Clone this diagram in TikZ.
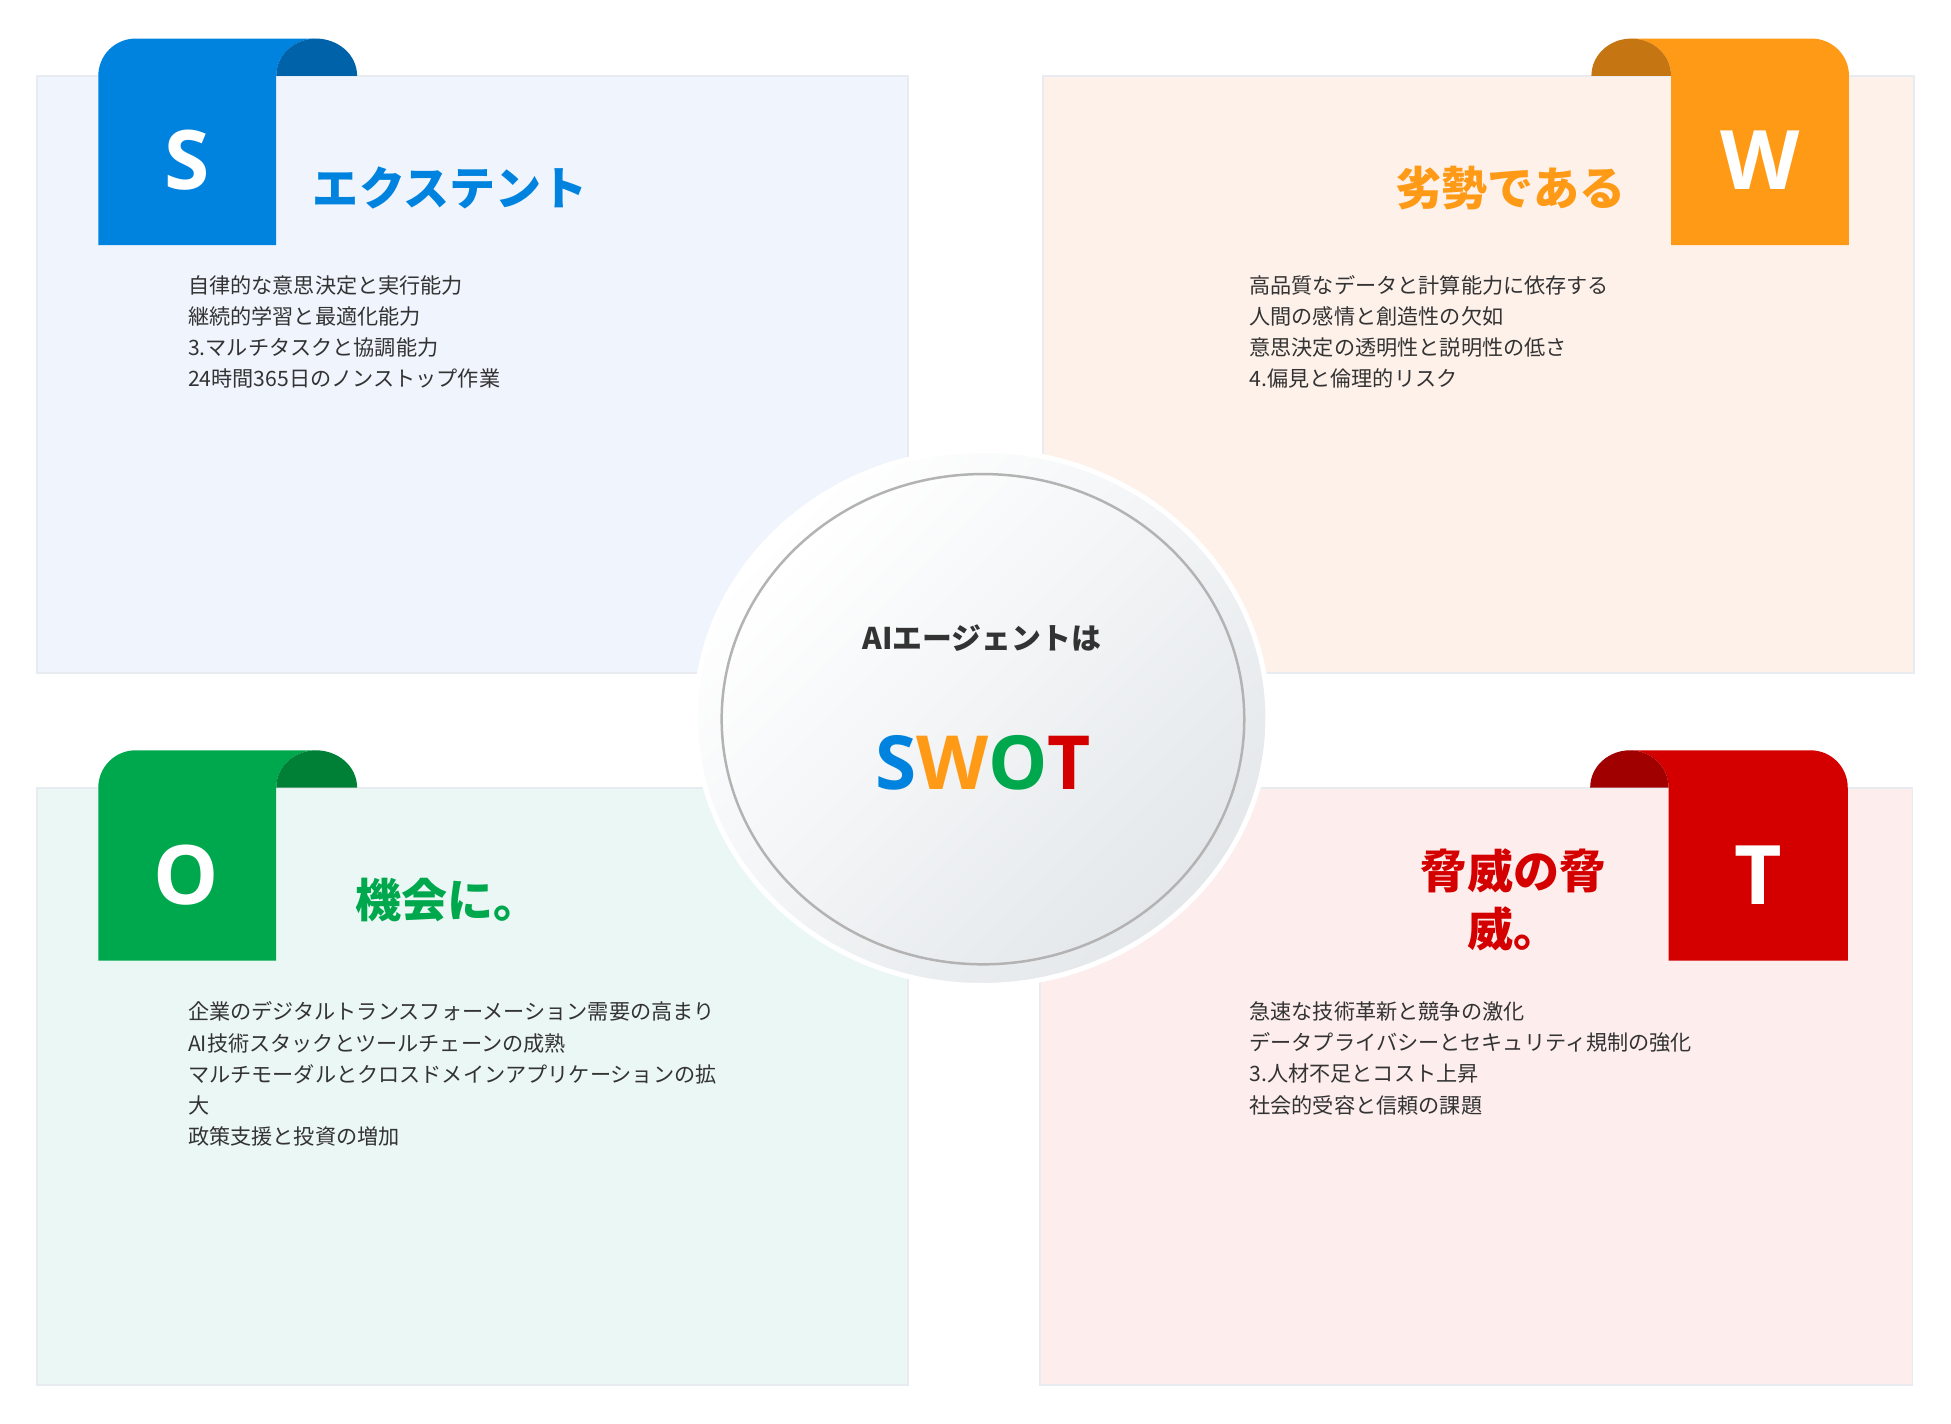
\documentclass[tikz,border=0pt]{standalone}
\usepackage{fontspec}
\setmainfont{Noto Sans CJK JP}
\newfontfamily\latin{Open Sans}
\usepackage{tikz}
\definecolor{sblue}{HTML}{0083DF}
\definecolor{sbluedk}{HTML}{0062A9}
\definecolor{worange}{HTML}{FF9A17}
\definecolor{worangedk}{HTML}{C57511}
\definecolor{ogreen}{HTML}{00A84D}
\definecolor{ogreendk}{HTML}{008037}
\definecolor{tred}{HTML}{D40000}
\definecolor{treddk}{HTML}{A00000}
\definecolor{sbg}{HTML}{EFF4FD}
\definecolor{wbg}{HTML}{FEF1EA}
\definecolor{obg}{HTML}{EBF7F4}
\definecolor{tbg}{HTML}{FDEDED}
\definecolor{boxline}{HTML}{E8ECF0}
\definecolor{txt}{HTML}{333333}
\definecolor{halo}{HTML}{E4E8EB}
\definecolor{ring}{HTML}{B3B3B3}

\begin{document}
\begin{tikzpicture}[x=1pt,y=-1pt,
    box/.style={draw=boxline,line width=1.5pt},
    letter/.style={text=white,font=\latin\bfseries\fontsize{66}{66}\selectfont},
    title/.style={font=\bfseries\fontsize{37}{47}\selectfont},
    body/.style={text=txt,align=left,inner sep=0pt,anchor=north west,font=\fontsize{17}{25}\selectfont}]
            \fill[white] (0,0) rectangle (1568,1144);
            \useasboundingbox (0,0) rectangle (1568,1144);

            \filldraw[sbg,box] (30,61) rectangle (730,541);
            \filldraw[wbg,box] (838,61) rectangle (1538,541);
            \filldraw[obg,box] (30,633) rectangle (730,1113);
            \filldraw[tbg,box] (836,633) rectangle (1537,1113);

            \fill[sblue] (79,197) -- (79,61) to[out=90,in=180] (109,31) -- (254,31)
                to[out=180,in=90] (222,61) -- (222,197) -- cycle;
            \fill[sbluedk] (222,61) to[out=90,in=180] (254,31) to[out=0,in=90] (287,61) -- cycle;
            \fill[worange] (1486,197) -- (1486,61) to[out=90,in=0] (1456,31) -- (1311,31)
                to[out=0,in=90] (1343,61) -- (1343,197) -- cycle;
            \fill[worangedk] (1343,61) to[out=90,in=0] (1311,31) to[out=180,in=90] (1279,61) -- cycle;
            \fill[ogreen] (79,772) -- (79,633) to[out=90,in=180] (109,603) -- (254,603)
                to[out=180,in=90] (222,633) -- (222,772) -- cycle;
            \fill[ogreendk] (222,633) to[out=90,in=180] (254,603) to[out=0,in=90] (287,633) -- cycle;
            \fill[tred] (1485,772) -- (1485,633) to[out=90,in=0] (1455,603) -- (1310,603)
                to[out=0,in=90] (1341,633) -- (1341,772) -- cycle;
            \fill[treddk] (1341,633) to[out=90,in=0] (1310,603) to[out=180,in=90] (1278,633) -- cycle;

            \node[letter] (sl) at (150,129) {S};
            \node[letter] (wl) at (1415,129) {W};
            \node[letter] (ol) at (150,703) {O};
            \node[letter] (tl) at (1413,703) {T};

            \node[title,text=sblue,anchor=west] (st) at (248,151) {エクステント};
            \node[title,text=worange,anchor=east] (wt) at (1310,151) {劣勢である};
            \node[title,text=ogreen,anchor=west] (ot) at (282,723) {機会に。};
            \node[title,text=tred,align=center] (tt) at (1216,723) {脅威の脅\\威。};

            \node[body] (sb) at (151,221) {自律的な意思決定と実行能力\\継続的学習と最適化能力\\3.マルチタスクと協調能力\\24時間365日のノンストップ作業};
            \node[body] (wb) at (1004,221) {高品質なデータと計算能力に依存する\\人間の感情と創造性の欠如\\意思決定の透明性と説明性の低さ\\4.偏見と倫理的リスク};
            \node[body] (ob) at (151,805) {企業のデジタルトランスフォーメーション需要の高まり\\AI技術スタックとツールチェーンの成熟\\マルチモーダルとクロスドメインアプリケーションの拡\\大\\政策支援と投資の増加};
            \node[body] (tb) at (1004,805) {急速な技術革新と競争の激化\\データプライバシーとセキュリティ規制の強化\\3.人材不足とコスト上昇\\社会的受容と信頼の課題};

            \filldraw[draw=white,line width=4pt,top color=white,bottom color=halo,shading angle=45]
                (789,577) ellipse [x radius=230,y radius=215];
            \filldraw[draw=ring,line width=2pt,top color=white,bottom color=halo,shading angle=45]
                (790,578) ellipse [x radius=210,y radius=197];

            \node[text=txt,font=\bfseries\fontsize{24}{24}\selectfont] (ai) at (789,513) {AIエージェントは};
            \node[font=\latin\bfseries\fontsize{60}{60}\selectfont] (swot) at (790,613)
                {\textcolor{sblue}{S}\textcolor{worange}{W}\textcolor{ogreen}{O}\textcolor{tred}{T}};
        \end{tikzpicture}
\end{document}
